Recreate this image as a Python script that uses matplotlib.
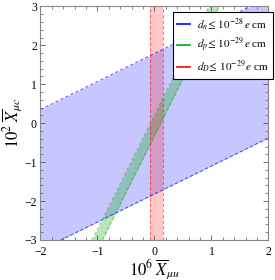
import numpy as np
import matplotlib
matplotlib.use('Agg')
import matplotlib.pyplot as plt
from matplotlib.ticker import MultipleLocator

plt.rcParams['font.family'] = ['Liberation Serif', 'DejaVu Serif']
plt.rcParams['mathtext.fontset'] = 'stix'

# band limits
# d_n: y = slope * x + c, c between the two intercepts
dn_slope = 0.72
dn_intercepts = [-1.82, 1.79]
# d_p: x = y / slope + offset
dp_slope = 2.93
dp_offsets = [-0.07, 0.11]
# d_D: vertical strip
dD_bounds = [-0.07, 0.15]

labels = [r'$d_n\!\leq\,10^{-28}\,e$ cm',
          r'$d_p\!\leq\,10^{-29}\,e$ cm',
          r'$d_D\!\leq\,10^{-29}\,e$ cm']
colors = ['#0000ff', '#00aa00', '#ff0000']

xlim = (-2, 2)
ylim = (-3, 3)

fig = plt.figure(figsize=(2.75, 2.8), dpi=100)
ax = fig.add_axes([0.147, 0.143, 0.829, 0.834])

xs = np.linspace(xlim[0], xlim[1], 200)
ys = np.linspace(ylim[0], ylim[1], 200)

# blue band
lo = dn_slope * xs + dn_intercepts[0]
hi = dn_slope * xs + dn_intercepts[1]
ax.fill_between(xs, lo, hi, color=colors[0], alpha=0.22, lw=0)
for c in dn_intercepts:
    ax.plot(xs, dn_slope * xs + c, color=colors[0], lw=0.8, ls=(0, (3, 2)), alpha=0.6)

# green band
gl = ys / dp_slope + dp_offsets[0]
gr = ys / dp_slope + dp_offsets[1]
ax.fill_betweenx(ys, gl, gr, color=colors[1], alpha=0.28, lw=0)
for o in dp_offsets:
    ax.plot(ys / dp_slope + o, ys, color=colors[1], lw=0.8, ls=(0, (3, 2)), alpha=0.45)

# red strip
ax.axvspan(dD_bounds[0], dD_bounds[1], color=colors[2], alpha=0.22, lw=0)
for b in dD_bounds:
    ax.axvline(b, color=colors[2], lw=0.8, ls=(0, (3, 2)), alpha=0.5)

ax.set_xlim(*xlim)
ax.set_ylim(*ylim)
ax.xaxis.set_major_locator(MultipleLocator(1))
ax.xaxis.set_minor_locator(MultipleLocator(0.2))
ax.yaxis.set_major_locator(MultipleLocator(1))
ax.yaxis.set_minor_locator(MultipleLocator(0.2))
ax.tick_params(which='both', direction='in', top=True, right=True,
               labelsize=8.5, color='#555555')
ax.tick_params(axis='x', which='major', pad=4)
ax.tick_params(axis='y', which='major', pad=2.5)
ax.tick_params(which='major', length=3.5, width=0.6)
ax.tick_params(which='minor', length=2, width=0.5)
for s in ax.spines.values():
    s.set_color('#888888')
    s.set_linewidth(0.8)

ax.set_xlabel(r'$10^6\;\overline{X}_{\mu u}$', fontsize=12, labelpad=0)
ax.set_ylabel(r'$10^2\;\overline{X}_{\mu c}$', fontsize=12, labelpad=0)

handles = [plt.Line2D([], [], color=c, lw=1.2) for c in colors]
leg = ax.legend(handles, labels, loc='upper right', bbox_to_anchor=(1.02, 0.975),
                fontsize=8, frameon=True, fancybox=False, handlelength=1.2,
                handletextpad=0.6, borderpad=0.35, labelspacing=0.3,
                borderaxespad=0)
leg.get_frame().set_edgecolor('black')
leg.get_frame().set_linewidth(0.8)
leg.get_frame().set_alpha(1)

fig.savefig('out.png', dpi=100)
